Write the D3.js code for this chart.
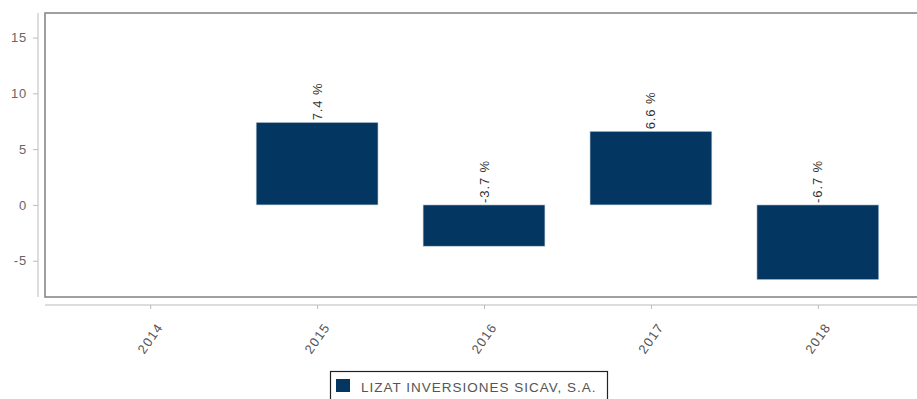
<!DOCTYPE html>
<html>
<head>
<meta charset="utf-8">
<script src="https://cdn.jsdelivr.net/npm/d3@7"></script>
<style>
  body { margin: 0; background: #fff; overflow: hidden; }
  svg text { font-family: "Liberation Sans", Arial, sans-serif; }
</style>
</head>
<body>
<div id="chart"></div>
<script>
const years = [2014, 2015, 2016, 2017, 2018];
const values = [null, 7.4, -3.7, 6.6, -6.7];
const yTicks = [-5, 0, 5, 10, 15];
const seriesName = "LIZAT INVERSIONES SICAV, S.A.";

const width = 917;
const height = 399;
// right edge of frame runs past the window
const box = { left: 45, right: 930, top: 13, bottom: 297 };

const svg = d3.select("#chart")
    .append("svg")
    .attr("width", width)
    .attr("height", height);

const x = d3.scaleLinear()
    .domain([2013.37, 2018.57])
    .range([45, 913]);

const y = d3.scaleLinear()
    .domain([-8.25, 17.2])
    .range([box.bottom, box.top]);

const barW = x(2014.73) - x(2014);

// plot frame
svg.append("rect")
    .attr("x", box.left)
    .attr("y", box.top)
    .attr("width", box.right - box.left)
    .attr("height", box.bottom - box.top)
    .attr("fill", "none")
    .attr("stroke", "#808080")
    .attr("stroke-width", 1.5);

// y axis
const yAxis = svg.append("g")
    .attr("transform", "translate(38,0)")
    .call(d3.axisLeft(y).tickValues(yTicks).tickFormat(d => String(d)).tickSize(5).tickPadding(6));
yAxis.select(".domain").attr("stroke", "#bbb").attr("d", `M0,${box.top}V${box.bottom}`);
yAxis.selectAll(".tick line").attr("stroke", "#bbb");
yAxis.selectAll("text")
    .attr("fill", "#666")
    .style("font-size", "13px")
    .style("letter-spacing", "0.8px");

// x axis
const xAxis = svg.append("g")
    .attr("transform", "translate(0,305)")
    .call(d3.axisBottom(x).tickValues(years).tickFormat(d3.format("d")).tickSize(4));
xAxis.select(".domain").attr("stroke", "#bbb").attr("d", `M${box.left},0H${box.right}`);
xAxis.selectAll(".tick line").attr("stroke", "#bbb");
xAxis.selectAll("text")
    .attr("fill", "#555")
    .style("font-size", "13px")
    .style("letter-spacing", "1.2px")
    .attr("text-anchor", "end")
    .attr("dy", null)
    .attr("y", 0)
    .attr("transform", "translate(13,22) rotate(-55)");

// bars
const data = years.map((yr, i) => ({ year: yr, value: values[i] })).filter(d => d.value !== null);

svg.selectAll(".bar")
    .data(data)
    .enter()
    .append("rect")
    .attr("class", "bar")
    .attr("x", d => x(d.year) - barW / 2)
    .attr("y", d => y(Math.max(0, d.value)))
    .attr("width", barW)
    .attr("height", d => Math.abs(y(d.value) - y(0)))
    .attr("fill", "#033762")
    .attr("stroke", "#c9d3de")
    .attr("stroke-width", 0.6);

// value labels
svg.selectAll(".lbl")
    .data(data)
    .enter()
    .append("text")
    .attr("class", "lbl")
    .attr("transform", d => `translate(${x(d.year) + 4.5},${y(Math.max(0, d.value)) - 2}) rotate(-90)`)
    .attr("text-anchor", "start")
    .style("font-size", "13px")
    .style("letter-spacing", "0.9px")
    .attr("fill", "#333")
    .text(d => d.value.toFixed(1) + " %");

// legend
const lg = svg.append("g");
lg.append("rect")
    .attr("x", 330.5).attr("y", 371.5)
    .attr("width", 277).attr("height", 40)
    .attr("fill", "#fff").attr("stroke", "#222").attr("stroke-width", 1.2);
lg.append("rect")
    .attr("x", 336).attr("y", 379)
    .attr("width", 14).attr("height", 13)
    .attr("fill", "#033762");
lg.append("text")
    .attr("x", 361).attr("y", 392)
    .style("font-size", "13.5px")
    .style("letter-spacing", "1px")
    .attr("fill", "#555")
    .text(seriesName);
</script>
</body>
</html>
